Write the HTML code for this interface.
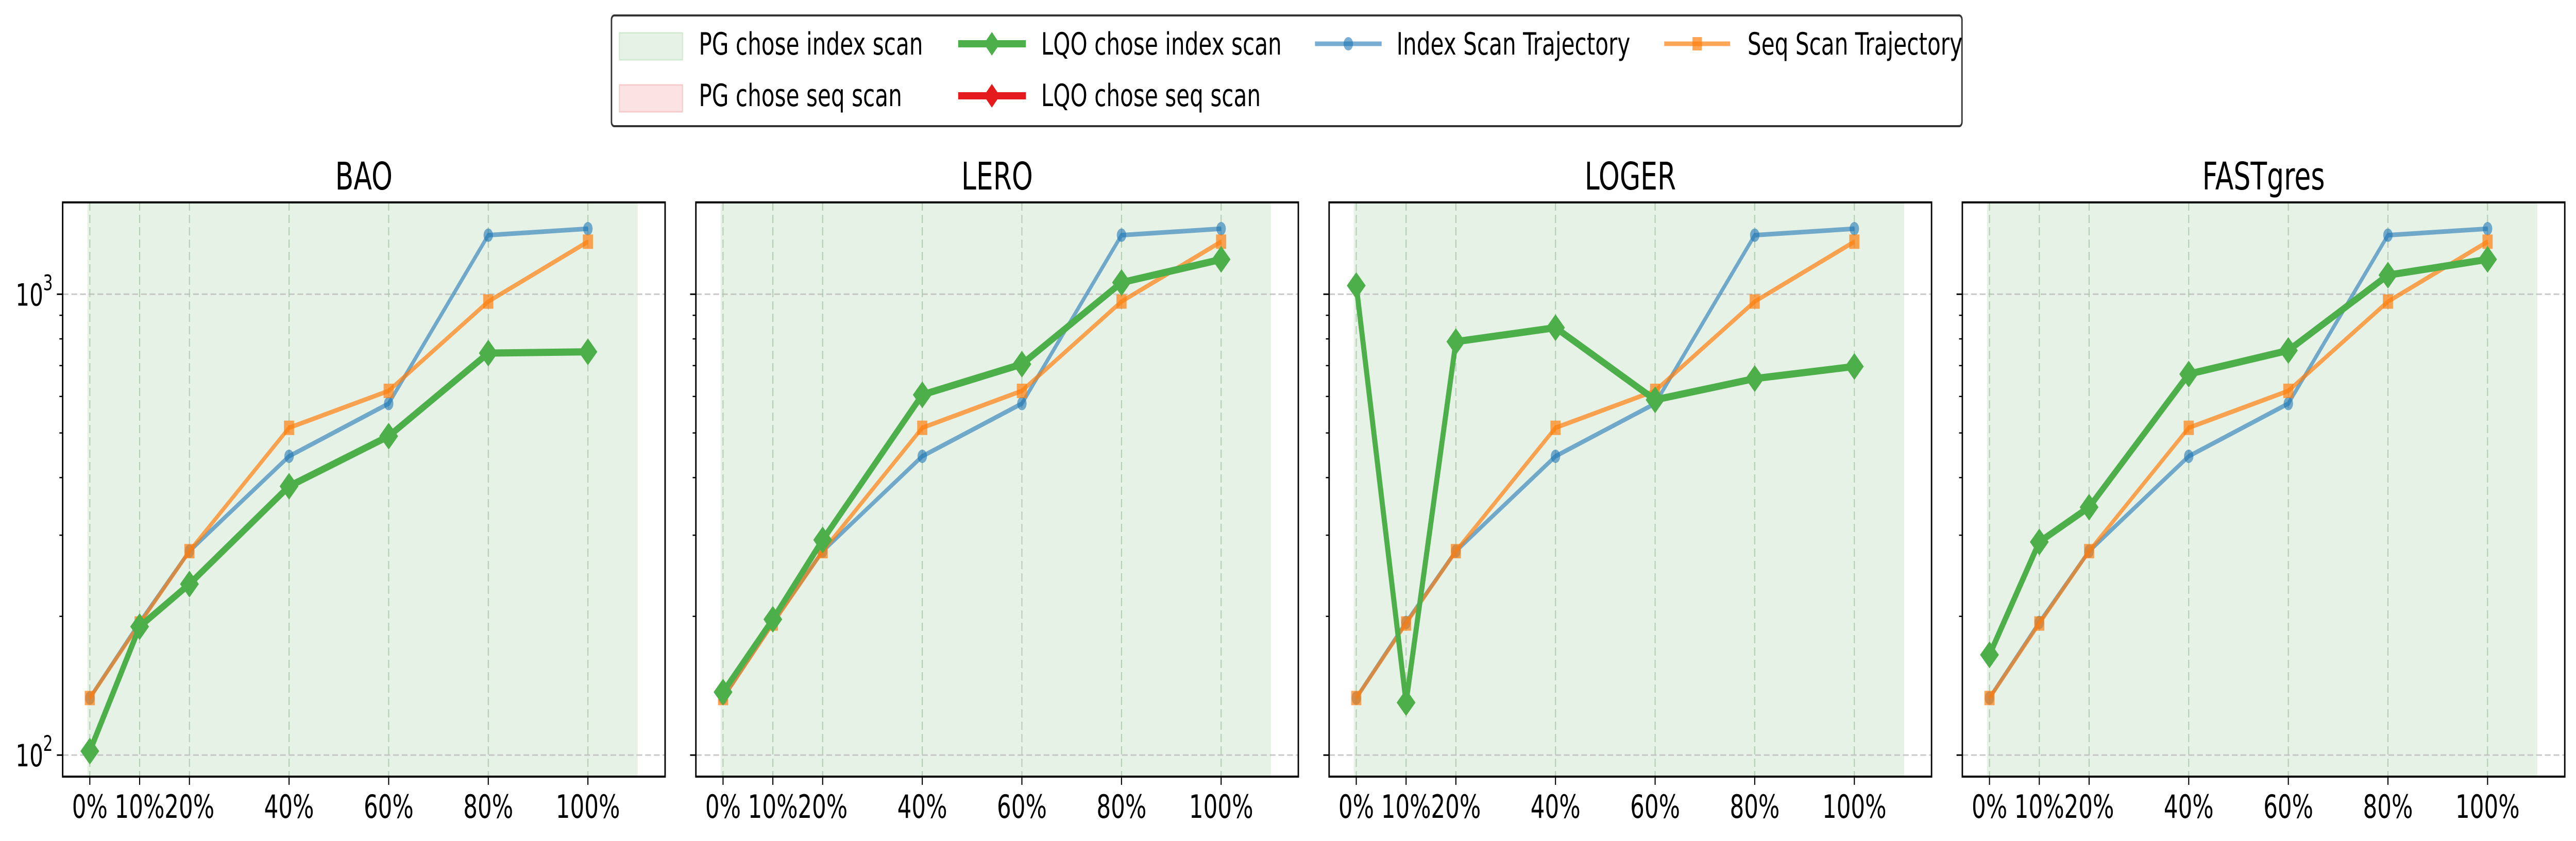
<!DOCTYPE html>
<html><head><meta charset="utf-8"><style>
html,body{margin:0;padding:0;background:#fff;width:100%;height:100%;overflow:hidden;}
svg{display:block;width:100vw;height:100vh;font-family:"DejaVu Sans","Liberation Sans",sans-serif;}
</style></head><body>
<svg id="fig" viewBox="0 0 7111 1633" preserveAspectRatio="none" xmlns="http://www.w3.org/2000/svg">
<g>
  <rect x="1688" y="30" width="3728" height="215" rx="8" fill="#fff" stroke="#333" stroke-width="4"/>
  <g>
    <rect x="1710" y="64" width="174" height="52" fill="#e6f2e6" stroke="#d2ead2" stroke-width="3"/>
    <text x="1929" y="106" font-size="60">PG chose index scan</text>
  </g>
  <g>
    <rect x="1710" y="165" width="174" height="52" fill="#fbe3e3" stroke="#f4cccc" stroke-width="3"/>
    <text x="1929" y="206" font-size="60">PG chose seq scan</text>
  </g>
  <g>
    <line x1="2645" y1="85" x2="2832" y2="85" stroke="#4daf4a" stroke-width="14"/>
    <path d="M2738 62 L2760 85 L2738 108 L2716 85 Z" fill="#4daf4a"/>
    <text x="2874" y="106" font-size="60">LQO chose index scan</text>
  </g>
  <g>
    <line x1="2645" y1="186" x2="2832" y2="186" stroke="#e41a1c" stroke-width="14"/>
    <path d="M2738 163 L2760 186 L2738 209 L2716 186 Z" fill="#e41a1c"/>
    <text x="2874" y="206" font-size="60">LQO chose seq scan</text>
  </g>
  <g>
    <line x1="3630" y1="85" x2="3814" y2="85" stroke="#1f77b4" stroke-opacity="0.6" stroke-width="9"/>
    <circle cx="3722" cy="85" r="13" fill="#1f77b4" fill-opacity="0.6"/>
    <text x="3855" y="106" font-size="60">Index Scan Trajectory</text>
  </g>
  <g>
    <line x1="4594" y1="85" x2="4776" y2="85" stroke="#ff7f0e" stroke-opacity="0.7" stroke-width="9"/>
    <rect x="4672" y="72" width="26" height="26" fill="#ff7f0e" fill-opacity="0.7"/>
    <text x="4824" y="106" font-size="60">Seq Scan Trajectory</text>
  </g>
</g>
<g id="panels"></g>
</svg>
<script>
const categories = [0, 10, 20, 40, 60, 80, 100];
const tickLabels = ["0%", "10%", "20%", "40%", "60%", "80%", "100%"];
const panelTitles = ["BAO", "LERO", "LOGER", "FASTgres"];
const indexScan = [133, 194, 277, 445, 579, 1343, 1387];
const seqScan = [133, 193, 277, 513, 617, 964, 1300];
const lqoBAO = [102, 190, 235, 383, 492, 745, 750];
const lqoLERO = [137, 197, 293, 605, 705, 1060, 1190];
const lqoLOGER = [1044, 130, 789, 846, 590, 656, 697];
const lqoFAST = [165, 290, 345, 671, 755, 1100, 1190];
const lqoSeries = [lqoBAO, lqoLERO, lqoLOGER, lqoFAST];
const yTickValues = [100, 1000];
const yTickExp = ["2", "3"];

const NS = "http://www.w3.org/2000/svg";
const root = document.getElementById("panels");
function mk(tag, attrs, parent) {
  const e = document.createElementNS(NS, tag);
  for (const k in attrs) e.setAttribute(k, attrs[k]);
  parent.appendChild(e);
  return e;
}
const PW = 1663, PT = 393, PB = 1508, XMIN = -5.45, XMAX = 115.5;
const YMIN = Math.log10(89.8), YMAX = Math.log10(1582);
const lefts = [173, 1921, 3669, 5417];

lefts.forEach((L, p) => {
  const xs = v => L + (v - XMIN) / (XMAX - XMIN) * PW;
  const ys = v => PB - (Math.log10(v) - YMIN) / (YMAX - YMIN) * (PB - PT);
  const g = mk("g", {}, root);
  
  
  const shade = mk("rect", {x: xs(-0.5), y: PT, width: xs(110) - xs(-0.5), height: PB - PT, fill: "#e6f2e6"}, g);
  
  
  yTickValues.forEach(v => {
    const gl = mk("line", {x1: L, x2: L + PW, y1: ys(v), y2: ys(v), stroke: "#bbb", "stroke-width": 3, "stroke-dasharray": "16 8", "stroke-opacity": 0.8}, g);
    
    
  });
  categories.forEach(c => {
    const gl = mk("line", {x1: xs(c), x2: xs(c), y1: PT, y2: PB, stroke: "#a9c4a9", "stroke-width": 3, "stroke-dasharray": "16 8", "stroke-opacity": 0.8}, g);
    
    
  });
  const ip = categories.map((c, i) => xs(c) + "," + ys(indexScan[i])).join(" ");
  const il = mk("polyline", {points: ip, fill: "none", stroke: "#1f77b4", "stroke-opacity": 0.6, "stroke-width": 9}, g);
  
  
  categories.forEach((c, i) => {
    const m = mk("circle", {cx: xs(c), cy: ys(indexScan[i]), r: 13, fill: "#1f77b4", "fill-opacity": 0.6}, g);
    
    
  });
  const sp = categories.map((c, i) => xs(c) + "," + ys(seqScan[i])).join(" ");
  const sl = mk("polyline", {points: sp, fill: "none", stroke: "#ff7f0e", "stroke-opacity": 0.7, "stroke-width": 9}, g);
  
  
  categories.forEach((c, i) => {
    const m = mk("rect", {x: xs(c) - 14, y: ys(seqScan[i]) - 14, width: 28, height: 28, fill: "#ff7f0e", "fill-opacity": 0.7}, g);
    
    
  });
  const lq = lqoSeries[p];
  const lp = categories.map((c, i) => xs(c) + "," + ys(lq[i])).join(" ");
  const ll = mk("polyline", {points: lp, fill: "none", stroke: "#4daf4a", "stroke-width": 14, "stroke-linejoin": "round"}, g);
  
  
  categories.forEach((c, i) => {
    const x = xs(c), y = ys(lq[i]);
    const m = mk("path", {d: `M${x} ${y-26} L${x+26} ${y} L${x} ${y+26} L${x-26} ${y} Z`, fill: "#4daf4a"}, g);
    
    
  });
  const fr = mk("rect", {x: L, y: PT, width: PW, height: PB - PT, fill: "none", stroke: "#000", "stroke-width": 4}, g);
  
  
  categories.forEach((c, i) => {
    mk("line", {x1: xs(c), x2: xs(c), y1: PB, y2: PB + 16, stroke: "#000", "stroke-width": 3}, g);
    const t = mk("text", {x: xs(c), y: PB + 80, "font-size": 62, "text-anchor": "middle"}, g);
    t.textContent = tickLabels[i];
    
    
  });
  for (let d = 100; d <= 1000; d *= 10) {
    for (let k = 1; k <= 9; k++) {
      const v = d * k;
      if (v < Math.pow(10, YMIN) || v > Math.pow(10, YMAX)) continue;
      const major = k === 1;
      mk("line", {x1: L - (major ? 16 : 9), x2: L, y1: ys(v), y2: ys(v), stroke: "#000", "stroke-width": major ? 3 : 2.5}, g);
    }
  }
  if (p === 0) {
    yTickValues.forEach((v, i) => {
      const t = mk("text", {x: L - 130, y: ys(v) + 22, "font-size": 60}, g);
      t.textContent = "10";
      
      
      const s = mk("text", {x: L - 54, y: ys(v) - 8, "font-size": 42}, g);
      s.textContent = yTickExp[i];
      
      
    });
  }
  const tt = mk("text", {x: L + PW / 2, y: 368, "font-size": 74, "text-anchor": "middle"}, g);
  tt.textContent = panelTitles[p];
  
  
});
</script>
</body></html>
